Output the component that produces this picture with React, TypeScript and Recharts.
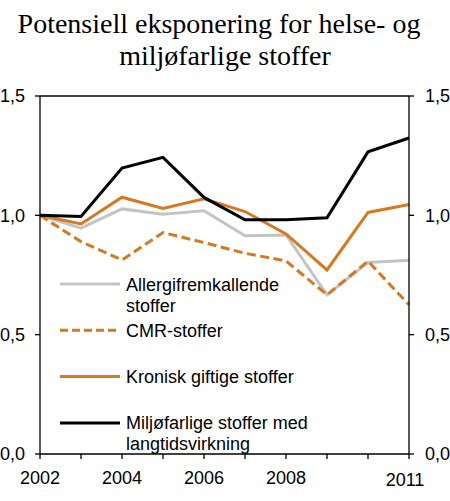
import { LineChart, Line, XAxis, YAxis, Legend, ReferenceLine } from 'recharts'

const years = [2002, 2003, 2004, 2005, 2006, 2007, 2008, 2009, 2010, 2011]
const labelYears = [2002, 2004, 2006, 2008, 2011]
const yTicks = [0, 0.5, 1, 1.5]

const allergi = [1.0, 0.946, 1.027, 1.005, 1.019, 0.914, 0.918, 0.667, 0.802, 0.812]
const cmr = [1.0, 0.89, 0.813, 0.928, 0.886, 0.841, 0.809, 0.667, 0.808, 0.625]
const kronisk = [1.0, 0.964, 1.076, 1.029, 1.069, 1.016, 0.922, 0.771, 1.012, 1.045]
const miljo = [1.0, 0.995, 1.198, 1.243, 1.075, 0.981, 0.981, 0.99, 1.266, 1.324]

const titleLines = ['Potensiell eksponering for helse- og', 'miljøfarlige stoffer']

const ORANGE = '#d67a1d'
const GRAY = '#c4c4c4'
const FONT = '"Liberation Sans", Arial, sans-serif'
const SERIF = '"Liberation Serif", "Times New Roman", serif'

// the last series is drawn against the right axis (same 0–1.5 scale) so that axis gets its ticks
const series = [
  { key: 'allergi', label: ['Allergifremkallende', 'stoffer'], color: GRAY, dash: undefined, axis: 'left' },
  { key: 'cmr', label: ['CMR-stoffer'], color: ORANGE, dash: '9 4.5', axis: 'left' },
  { key: 'kronisk', label: ['Kronisk giftige stoffer'], color: ORANGE, dash: undefined, axis: 'left' },
  { key: 'miljo', label: ['Miljøfarlige stoffer med', 'langtidsvirkning'], color: '#000', dash: undefined, axis: 'right' },
]

const data = years.map((year, i) => ({
  year,
  allergi: allergi[i],
  cmr: cmr[i],
  kronisk: kronisk[i],
  miljo: miljo[i],
}))

const fmt = (v: number) => v.toFixed(1).replace('.', ',')

function YearTick(props: any) {
  const { x, y, payload } = props
  if (!labelYears.includes(payload.value)) return null
  const last = payload.value === 2011
  return (
    <text
      x={x + (last ? -4 : 0)}
      y={y + (last ? 2 : 0)}
      dy="0.71em"
      textAnchor="middle"
      fill="#000"
      fontSize={18}
      fontFamily={FONT}
    >
      {payload.value}
    </text>
  )
}

function ValueTick(props: any) {
  const { x, y, payload, textAnchor } = props
  return (
    <text x={x} y={y} dy="0.355em" textAnchor={textAnchor} fill="#000" fontSize={18} fontFamily={FONT}>
      {fmt(payload.value)}
    </text>
  )
}

function LegendBox() {
  return (
    <svg width={300} height={200} style={{ display: 'block', overflow: 'visible' }}>
      {series.map((s, i) => {
        const cy = 14 + i * 46.3
        return (
          <g key={s.key}>
            <line x1={0} x2={60} y1={cy} y2={cy} stroke={s.color} strokeWidth={3} strokeDasharray={s.dash ? '8 4' : undefined} />
            {s.label.map((t, j) => (
              <text key={j} x={66} y={cy + 6.5 + j * 21} fontSize={18} fontFamily={FONT} fill="#000">
                {t}
              </text>
            ))}
          </g>
        )
      })}
    </svg>
  )
}

export default function App() {
  return (
    <div style={{ position: 'absolute', left: 0, top: 0, width: 450, height: 501, background: '#fff' }}>
      <svg width={450} height={90} style={{ position: 'absolute', left: 0, top: 0 }}>
        <text x={219} y={33} textAnchor="middle" fontSize={28} fontFamily={SERIF} fill="#000">
          {titleLines[0]}
        </text>
        <text x={225} y={65} textAnchor="middle" fontSize={28} fontFamily={SERIF} fill="#000">
          {titleLines[1]}
        </text>
      </svg>
      <LineChart width={450} height={501} data={data} margin={{ top: 96, right: 5, bottom: 7, left: 4 }}>
        <XAxis
          dataKey="year"
          type="number"
          domain={[2002, 2011]}
          ticks={years}
          interval={0}
          height={40}
          tickSize={5}
          tickMargin={12}
          axisLine={{ stroke: '#000', strokeWidth: 1.3 }}
          tickLine={{ stroke: '#000', strokeWidth: 1.3 }}
          tick={<YearTick />}
        />
        <YAxis
          yAxisId="left"
          domain={[0, 1.5]}
          ticks={yTicks}
          interval={0}
          width={36}
          tickSize={5}
          tickMargin={10}
          axisLine={{ stroke: '#000', strokeWidth: 1.3 }}
          tickLine={{ stroke: '#000', strokeWidth: 1.3 }}
          tick={<ValueTick />}
        />
        <YAxis
          yAxisId="right"
          orientation="right"
          domain={[0, 1.5]}
          ticks={yTicks}
          interval={0}
          width={36}
          tickSize={5}
          tickMargin={11}
          axisLine={{ stroke: '#000', strokeWidth: 1.3 }}
          tickLine={{ stroke: '#000', strokeWidth: 1.3 }}
          tick={<ValueTick />}
        />
        <ReferenceLine yAxisId="left" y={1.5} stroke="#000" strokeWidth={1.3} />
        {series.map((s) => (
          <Line
            key={s.key}
            yAxisId={s.axis}
            type="linear"
            dataKey={s.key}
            stroke={s.color}
            strokeWidth={3}
            strokeDasharray={s.dash}
            dot={false}
            activeDot={false}
            isAnimationActive={false}
          />
        ))}
        <Legend
          layout="vertical"
          align="center"
          verticalAlign="middle"
          wrapperStyle={{ left: 60, top: 270, width: 300, height: 200 }}
          content={() => <LegendBox />}
        />
      </LineChart>
    </div>
  )
}
